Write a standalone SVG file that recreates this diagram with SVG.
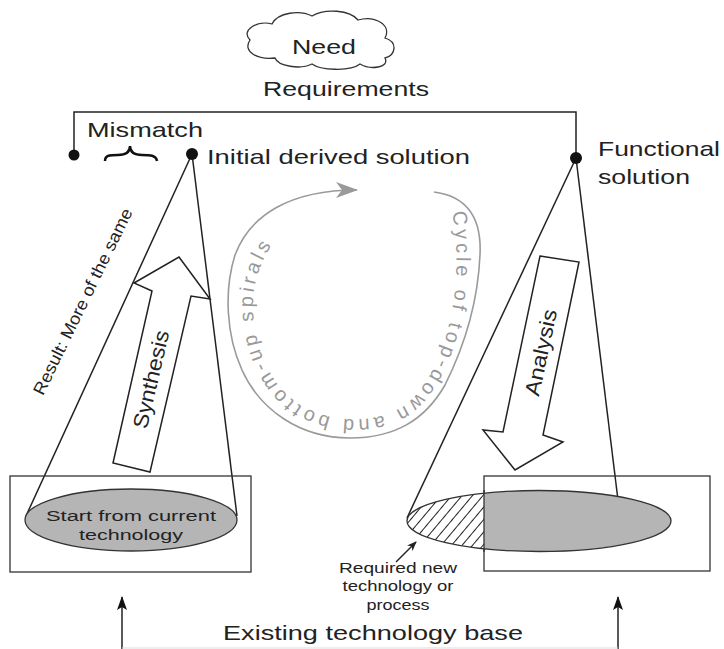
<svg xmlns="http://www.w3.org/2000/svg" width="724" height="649" viewBox="0 0 724 649">
<style>
.t{font-family:"Liberation Sans",Arial,sans-serif;fill:#222}
.ln{stroke:#222;stroke-width:1.5;fill:none}
.blk{fill:#fff;stroke:#222;stroke-width:1.5}
.gr{stroke:#9a9a9a;stroke-width:1.6;fill:none}
</style>
<defs>
<pattern id="hatch" patternUnits="userSpaceOnUse" width="8" height="8" patternTransform="rotate(40)">
<rect width="8" height="8" fill="#fff"/>
<line x1="0" y1="0" x2="0" y2="8" stroke="#222" stroke-width="2"/>
</pattern>
<clipPath id="leftHalf"><rect x="380" y="480" width="104" height="80"/></clipPath>
<clipPath id="rightHalf"><rect x="484" y="480" width="220" height="80"/></clipPath>
<marker id="ah" markerWidth="10" markerHeight="8" refX="9" refY="4" orient="auto" markerUnits="userSpaceOnUse">
<path d="M0,0 L10,4 L0,8 L3,4 Z" fill="#222"/>
</marker>
<marker id="gah" markerWidth="22" markerHeight="16" refX="21" refY="8" orient="auto" markerUnits="userSpaceOnUse">
<path d="M0,0 L22,8 L0,16 L6,8 Z" fill="#9a9a9a"/>
</marker>
<marker id="bah" markerWidth="10" markerHeight="14" refX="5" refY="1" orient="0" markerUnits="userSpaceOnUse">
<path d="M5,0 L10,14 L5,11 L0,14 Z" fill="#111"/>
</marker>
</defs>

<g id="need">
<path d="M250,40 C240,30 258,20 272,24 C278,12 300,10 312,16 C325,8 350,10 358,20 C375,15 392,25 385,38 C398,42 396,55 385,58 C390,68 370,70 360,64 C350,72 320,70 312,64 C300,70 278,66 275,58 C258,60 242,52 250,40 Z" fill="#fff" stroke="#333" stroke-width="1.3"/>
<text class="t" x="292" y="54" font-size="21" textLength="64" lengthAdjust="spacingAndGlyphs">Need</text>
</g>

<g id="requirements">
<text class="t" x="263" y="96" font-size="21" textLength="166" lengthAdjust="spacingAndGlyphs">Requirements</text>
</g>

<g id="connectors">
<path class="ln" d="M74,155 V112 H576 V158"/>
<path d="M105,161 C105,155 110,155 118,155 C126,155 130,152 130,146 C130,152 134,155 142,155 C150,155 156,155 157,161" fill="none" stroke="#111" stroke-width="2.5"/>
<line class="ln" x1="192" y1="154" x2="26" y2="516"/>
<line class="ln" x1="192" y1="154" x2="237" y2="516"/>
<line class="ln" x1="576" y1="158" x2="407" y2="518"/>
<line class="ln" x1="576" y1="158" x2="618" y2="500"/>
<line class="ln" x1="396" y1="562" x2="416" y2="542" marker-end="url(#ah)"/>
<line x1="122" y1="649" x2="122" y2="597" stroke="#222" stroke-width="1.5" marker-end="url(#bah)"/>
<line x1="618" y1="649" x2="618" y2="597" stroke="#222" stroke-width="1.5" marker-end="url(#bah)"/>
<line x1="122" y1="648" x2="618" y2="648" stroke="#ddd" stroke-width="1"/>
<path class="gr" d="M434,192 C465,196 482,215 480,255 C478,300 465,345 445,385 C425,420 395,438 350,438 C300,438 260,410 242,370 C226,335 224,290 235,255 C250,215 290,190 357,190" marker-end="url(#gah)"/>
</g>

<g id="mismatch">
<circle cx="74" cy="155" r="5.5" fill="#111"/>
<text class="t" x="87" y="137" font-size="21" textLength="116" lengthAdjust="spacingAndGlyphs">Mismatch</text>
</g>

<g id="initial-solution">
<circle cx="192" cy="154" r="6" fill="#111"/>
<text class="t" x="207" y="164" font-size="21" textLength="263" lengthAdjust="spacingAndGlyphs">Initial derived solution</text>
</g>

<g id="functional-solution">
<circle cx="576" cy="158" r="6" fill="#111"/>
<text class="t" x="598" y="156" font-size="21" textLength="122" lengthAdjust="spacingAndGlyphs">Functional</text>
<text class="t" x="598" y="184" font-size="21" textLength="92" lengthAdjust="spacingAndGlyphs">solution</text>
</g>

<g id="result">
<text class="t" transform="translate(88,304) rotate(-64)" text-anchor="middle" font-size="17" textLength="205" lengthAdjust="spacingAndGlyphs">Result: More of the same</text>
</g>

<g id="synthesis">
<polygon class="blk" points="179,257 210,299 191,296 150,472 113,463 152,291 134,283"/>
<text class="t" transform="translate(158,381) rotate(-77)" text-anchor="middle" font-size="21" textLength="100" lengthAdjust="spacingAndGlyphs">Synthesis</text>
</g>

<g id="analysis">
<polygon class="blk" points="540,256 579,262 543,435 563,442 515,470 483,430 503,432"/>
<text class="t" transform="translate(548,354) rotate(-78)" text-anchor="middle" font-size="21" textLength="88" lengthAdjust="spacingAndGlyphs">Analysis</text>
</g>

<g id="spiral-label">
<path id="sp" d="M452,212 C458,240 458,280 452,310 C445,350 430,385 405,405 C380,423 335,425 300,405 C270,385 255,350 253,310 C252,280 262,250 292,222" fill="none"/>
<text font-family="Liberation Sans,Arial,sans-serif" font-size="20" fill="#999" letter-spacing="3.6"><textPath href="#sp">Cycle of top-down and bottom-up spirals</textPath></text>
</g>

<g id="current-tech">
<rect x="10" y="476" width="241" height="96" fill="none" stroke="#333" stroke-width="1.3"/>
<ellipse cx="131" cy="520" rx="106" ry="31" fill="#b5b5b5" stroke="#333" stroke-width="1.3"/>
<text class="t" x="131" y="521" font-size="15.5" text-anchor="middle" textLength="170" lengthAdjust="spacingAndGlyphs">Start from current</text>
<text class="t" x="131" y="540" font-size="15.5" text-anchor="middle" textLength="104" lengthAdjust="spacingAndGlyphs">technology</text>
</g>

<g id="new-tech">
<rect x="484" y="476" width="226" height="95" fill="none" stroke="#333" stroke-width="1.3"/>
<ellipse cx="539" cy="521" rx="132" ry="30.5" fill="url(#hatch)" clip-path="url(#leftHalf)"/>
<ellipse cx="539" cy="521" rx="132" ry="30.5" fill="#b5b5b5" clip-path="url(#rightHalf)"/>
<ellipse cx="539" cy="521" rx="132" ry="30.5" fill="none" stroke="#333" stroke-width="1.3"/>
<line x1="484" y1="490" x2="484" y2="552" stroke="#333" stroke-width="1.3"/>
<text class="t" x="398" y="573" font-size="14" text-anchor="middle" textLength="118" lengthAdjust="spacingAndGlyphs">Required new</text>
<text class="t" x="398" y="591" font-size="14" text-anchor="middle" textLength="111" lengthAdjust="spacingAndGlyphs">technology or</text>
<text class="t" x="398" y="610" font-size="14" text-anchor="middle" textLength="63" lengthAdjust="spacingAndGlyphs">process</text>
</g>

<g id="existing-base">
<text class="t" x="223" y="640" font-size="21" textLength="300" lengthAdjust="spacingAndGlyphs">Existing technology base</text>
</g>
</svg>
